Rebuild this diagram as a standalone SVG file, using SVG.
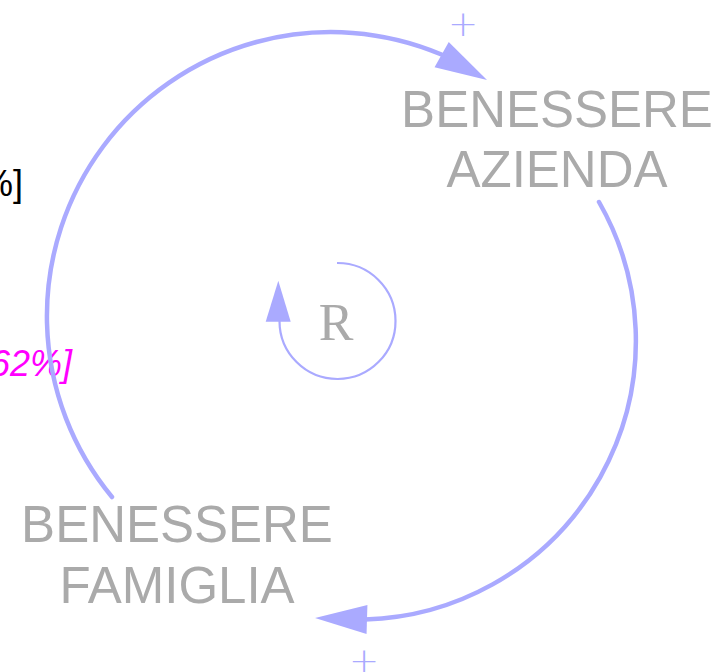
<svg xmlns="http://www.w3.org/2000/svg" width="718" height="672" viewBox="0 0 718 672">
<style>
.node{font-family:"Liberation Sans",Arial,sans-serif;font-size:51px;fill:#aaaaaa;text-anchor:middle}
.link{fill:none;stroke:#aaaaff;stroke-width:4.5;stroke-linecap:round}
.head{fill:#aaaaff;stroke:none}
.pol{font-family:"DejaVu Sans",sans-serif;font-size:36px;fill:#aaaaff;text-anchor:middle;font-weight:200}
.loopl{font-family:"Liberation Serif","Times New Roman",serif;font-size:52px;fill:#aaaaaa;text-anchor:middle}
</style>
<defs>
<path id="ah" d="M0,0 L-52,-14.5 L-52,14.5 Z"/>
</defs>
<g id="stray-labels">
<text x="23" y="196" font-family="Liberation Sans, Arial, sans-serif" font-size="36" fill="#000000" text-anchor="end">%]</text>
<text x="72" y="376" font-family="Liberation Sans, Arial, sans-serif" font-size="36" font-style="italic" fill="#ff00ff" text-anchor="end">62%]</text>
</g>
<g id="node-benessere-azienda">
<text class="node" x="557" y="127">BENESSERE</text>
<text class="node" x="557" y="187">AZIENDA</text>
</g>
<g id="node-benessere-famiglia">
<text class="node" x="177" y="542">BENESSERE</text>
<text class="node" x="177" y="603">FAMIGLIA</text>
</g>
<g id="connectors">
<path class="link" d="M112,497 A284,284 0 0 1 441.5,54.5"/>
<use href="#ah" class="head" transform="translate(487,80) rotate(29.3)"/>
<text class="pol" x="463" y="36">+</text>
<path class="link" d="M599,202 A279,279 0 0 1 365,619.5"/>
<use href="#ah" class="head" transform="translate(315,618) rotate(181.7)"/>
<text class="pol" x="364" y="673">+</text>
</g>
<g id="loop-R">
<path fill="none" stroke="#aaaaff" stroke-width="2.2" d="M337,263 A58,58 0 1 1 279.5,321"/>
<path class="head" d="M278.3,280.7 L290.7,321.7 L265.7,321.7 Z"/>
<text class="loopl" x="336" y="340">R</text>
</g>
</svg>
